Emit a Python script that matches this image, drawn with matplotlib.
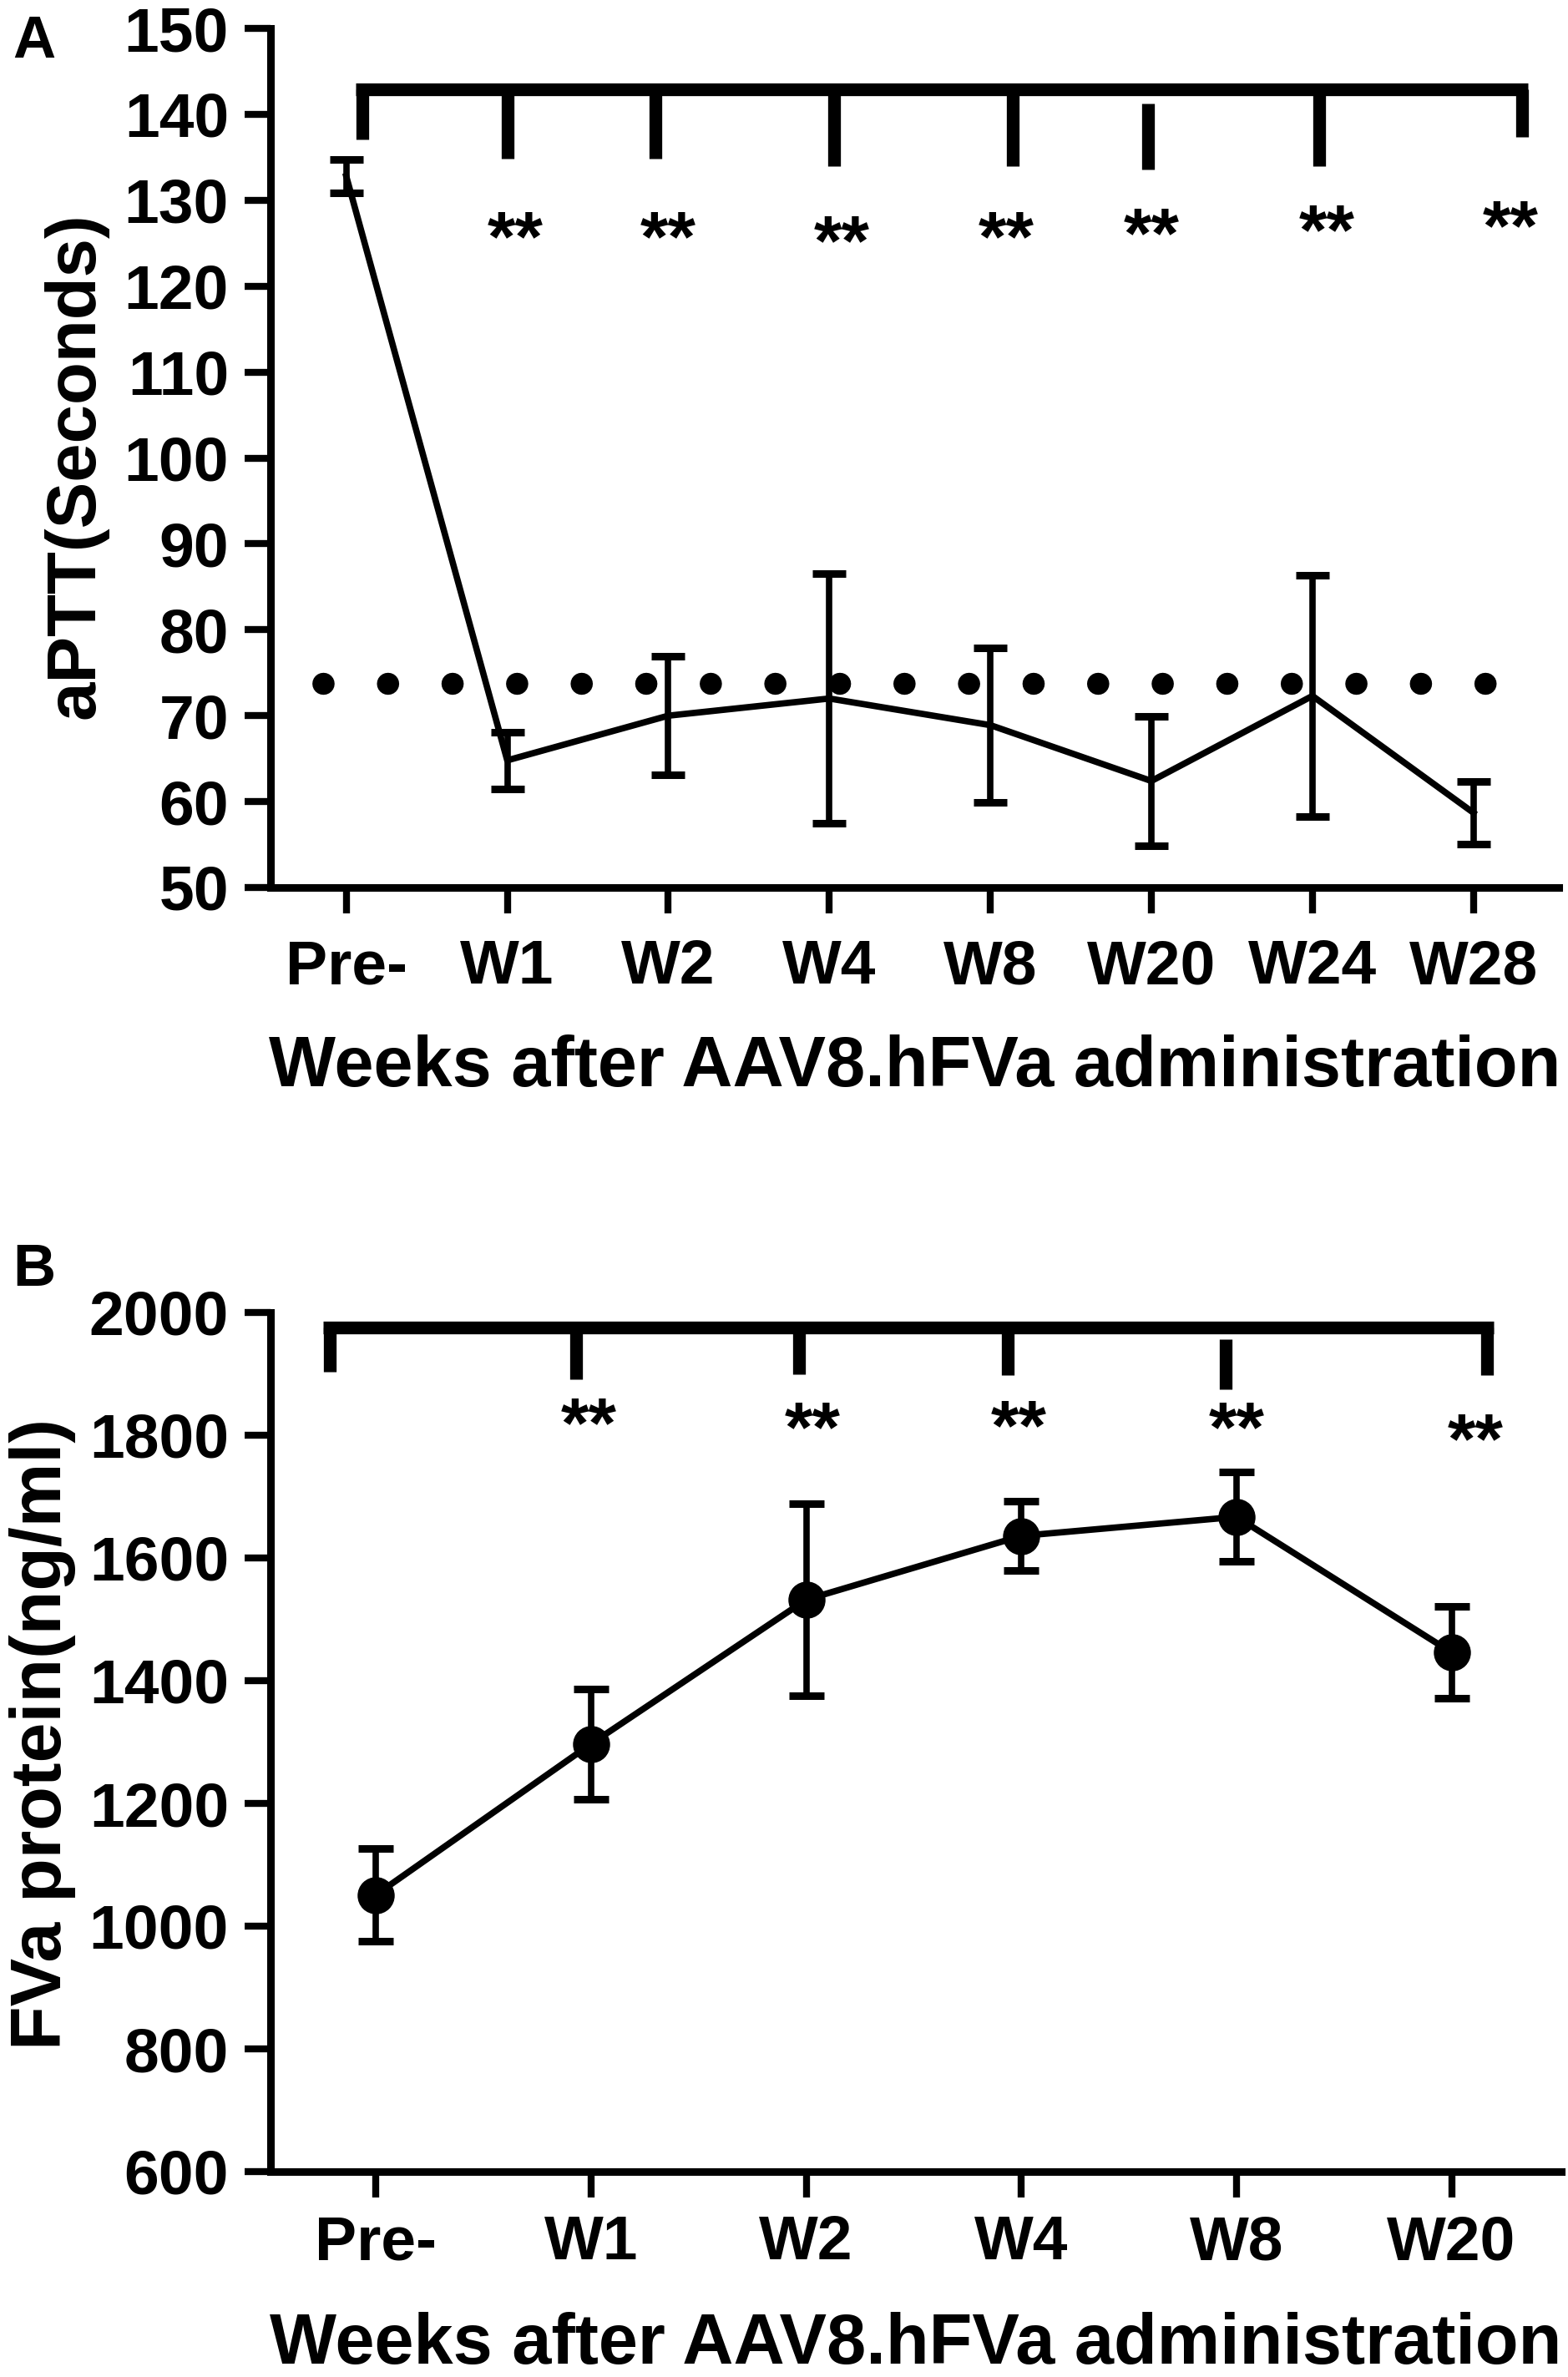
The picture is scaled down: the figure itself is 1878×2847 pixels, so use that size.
import matplotlib
matplotlib.use("Agg")
import matplotlib.pyplot as plt

plt.rcParams['font.family'] = ['Liberation Sans', 'DejaVu Sans']

# ---- data, panel A (aPTT) ----
weeks_a = ["Pre-", "W1", "W2", "W4", "W8", "W20", "W24", "W28"]
aptt_mean = [132.8, 64.8, 70.0, 72.0, 68.9, 62.4, 72.3, 58.7]
aptt_err = [1.9, 3.3, 6.9, 14.5, 9.0, 7.5, 14.0, 3.6]
aptt_normal = 73.7

# significance bracket A
brA_y = 142.9
brA_legs = [0.10, 1.00, 1.92, 3.03, 4.14, 4.98, 6.04, 7.30]
brA_bottom = [137.1, 134.8, 134.8, 134.0, 134.0, 133.6, 134.0, 137.4]
brA_top = [142.9, 142.9, 142.9, 142.9, 142.9, 141.3, 142.9, 142.9]
starsA_x = [1.05, 2.00, 3.08, 4.10, 5.00, 6.09, 7.23]
starsA_y = [126.9, 126.9, 126.5, 126.9, 127.3, 127.7, 128.2]

# ---- data, panel B (FVa protein) ----
weeks_b = ["Pre-", "W1", "W2", "W4", "W8", "W20"]
fva_mean = [1051, 1297, 1532, 1636, 1667, 1446]
fva_err = [75, 90, 157, 57, 73, 75]

brB_y = 1976
brB_legs = [-0.215, 0.93, 1.965, 2.935, 3.95, 5.165]
brB_bottom = [1903, 1891, 1900, 1898, 1875, 1898]
brB_top = [1976, 1976, 1976, 1976, 1957, 1976]
starsB_x = [0.99, 2.03, 2.99, 4.00, 5.11]
starsB_y = [1836, 1830, 1832, 1830, 1810]

W, H = 1878, 2847
fig = plt.figure(figsize=(W / 100, H / 100), dpi=100)

axA = fig.add_axes([324 / W, 1 - 1063 / H, (1867 - 324) / W, (1063 - 34) / H])
axB = fig.add_axes([324 / W, 1 - 2601 / H, (1870 - 324) / W, (2601 - 1572) / H])


def style(ax, xpad):
    for s in ["top", "right"]:
        ax.spines[s].set_visible(False)
    for s in ["left", "bottom"]:
        ax.spines[s].set_linewidth(6.5)
    ax.tick_params(axis="both", length=22, width=6, labelsize=54)
    ax.tick_params(axis="y", pad=14)
    ax.tick_params(axis="x", pad=xpad)
    for lab in ax.get_xticklabels() + ax.get_yticklabels():
        lab.set_fontweight("bold")


def bracket(ax, y, legs, bottoms, tops, lw=11):
    half = 0.04 * (ax.get_xlim()[1] - ax.get_xlim()[0]) / 8
    ax.plot([legs[0] - half, legs[-1] + half], [y, y], color="black", lw=lw,
            solid_capstyle="butt", clip_on=False)
    for x, b, t in zip(legs, bottoms, tops):
        ax.plot([x, x], [b, t], color="black", lw=lw, solid_capstyle="butt",
                clip_on=False)


def stars(ax, xs, ys, size=62):
    for x, y in zip(xs, ys):
        ax.annotate("**", (x, y), xytext=(0, -0.475 * size),
                    textcoords="offset points", ha="center", va="baseline",
                    fontsize=size, fontweight="bold")


# ---- panel A ----
xa = list(range(len(weeks_a)))
axA.set_xlim(-0.47, 7.53)
axA.set_ylim(50, 150)
axA.hlines(aptt_normal, -0.545, 7.08, colors="black", lw=19,
           linestyles=[(0, (0.01, 2.92))], capstyle="round", zorder=1)
axA.errorbar(xa, aptt_mean, yerr=aptt_err, color="black", lw=5.5,
             elinewidth=5.5, capsize=14.5, capthick=6.5, zorder=3)
axA.set_xticks(xa)
axA.set_xticklabels(weeks_a)
axA.set_yticks(range(50, 151, 10))
style(axA, 22)
bracket(axA, brA_y, brA_legs, brA_bottom, brA_top)
stars(axA, starsA_x, starsA_y)
axA.set_ylabel("aPTT(Seconds)", fontsize=60, fontweight="bold")
axA.yaxis.set_label_coords(-0.126, 0.491)
axA.set_xlabel("Weeks after AAV8.hFVa administration", fontsize=61,
               fontweight="bold", labelpad=33)

# ---- panel B ----
xb = list(range(len(weeks_b)))
axB.set_xlim(-0.49, 5.51)
axB.set_ylim(600, 2000)
axB.errorbar(xb, fva_mean, yerr=fva_err, color="black", lw=5.5,
             elinewidth=5.5, capsize=15, capthick=6.5, marker="o",
             markersize=31, zorder=3)
axB.set_xticks(xb)
axB.set_xticklabels(weeks_b)
axB.set_yticks(range(600, 2001, 200))
style(axB, 15)
bracket(axB, brB_y, brB_legs, brB_bottom, brB_top)
stars(axB, starsB_x, starsB_y)
axB.set_ylabel("FVa protein(ng/ml)", fontsize=62, fontweight="bold")
axB.yaxis.set_label_coords(-0.151, 0.509)
axB.set_xlabel("Weeks after AAV8.hFVa administration", fontsize=61,
               fontweight="bold", labelpad=34)

fig.text(15 / W, 1 - 69 / H, "A", fontsize=51, fontweight="bold",
         ha="left", va="baseline")
fig.text(15 / W, 1 - 1540 / H, "B", fontsize=51, fontweight="bold",
         ha="left", va="baseline")

fig.savefig("out.png", dpi=100)
